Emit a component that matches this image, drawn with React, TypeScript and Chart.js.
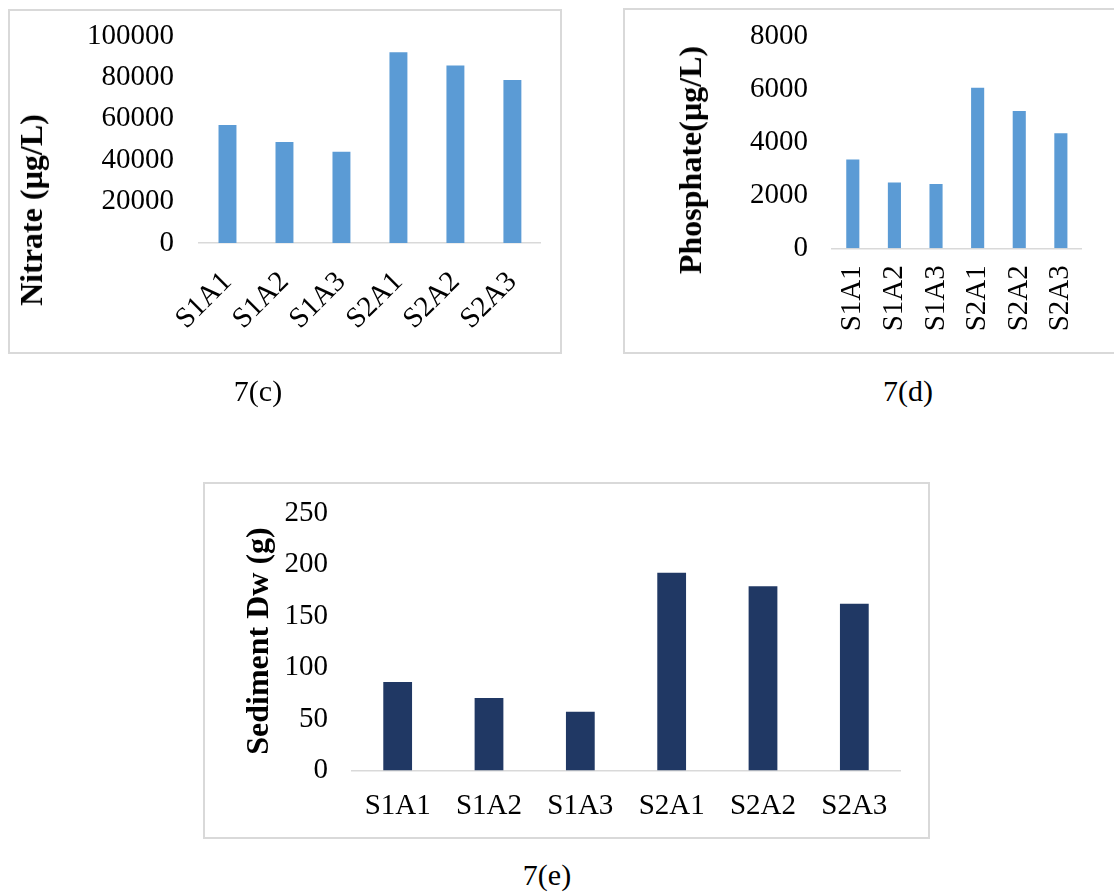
import React, { useEffect, useRef } from "react";
import { Chart, registerables } from "chart.js";

Chart.register(...registerables);

const categories = ["S1A1", "S1A2", "S1A3", "S2A1", "S2A2", "S2A3"];
const nitrateValues = [57000, 48800, 44100, 92100, 85800, 78700];
const phosphateValues = [3360, 2490, 2430, 6070, 5190, 4350];
const sedimentValues = [86, 70.5, 57, 192, 179, 162];
const nitrateTicks = [0, 20000, 40000, 60000, 80000, 100000];
const phosphateTicks = [0, 2000, 4000, 6000, 8000];
const sedimentTicks = [0, 50, 100, 150, 200, 250];

const FONT = "'Liberation Serif', 'Times New Roman', serif";

type Rect = { left: number; top: number; width: number; height: number };
type Area = { left: number; top: number; right: number; bottom: number };

function BarPanel(props: {
  canvas: Rect;
  area: Area;
  values: number[];
  ticks: number[];
  color: string;
  rotation: number;
  xPad: number;
  yPad: number;
}) {
  const ref = useRef<HTMLCanvasElement>(null);
  useEffect(() => {
    const { canvas, area, values, ticks, color, rotation, xPad, yPad } = props;
    const el = ref.current!;
    const chart = new Chart(el, {
      type: "bar",
      data: {
        labels: categories,
        datasets: [
          {
            data: values,
            backgroundColor: color,
            categoryPercentage: 1,
            barPercentage: 0.315,
          },
        ],
      },
      options: {
        responsive: false,
        animation: false,
        devicePixelRatio: 1,
        layout: {
          padding: {
            left: 0,
            top: area.top - canvas.top,
            right: canvas.left + canvas.width - area.right,
            bottom: 0,
          },
        },
        plugins: { legend: { display: false }, tooltip: { enabled: false } },
        scales: {
          x: {
            grid: { display: false, drawTicks: false },
            border: { display: true, color: "#D9D9D9", width: 1.5 },
            ticks: {
              color: "#000",
              font: { family: FONT, size: 29 },
              padding: xPad,
              minRotation: rotation,
              maxRotation: rotation,
              autoSkip: false,
            },
            afterFit: (s: any) => {
              s.height = canvas.top + canvas.height - area.bottom;
            },
          },
          y: {
            min: ticks[0],
            max: ticks[ticks.length - 1],
            grid: { display: false, drawTicks: false },
            border: { display: false },
            ticks: {
              stepSize: ticks[1] - ticks[0],
              color: "#000",
              font: { family: FONT, size: 29 },
              padding: yPad,
              callback: (v: any) => String(v),
            },
            afterFit: (s: any) => {
              s.width = area.left - canvas.left;
            },
          },
        },
      },
    });
    return () => chart.destroy();
  }, []);
  const c = props.canvas;
  return (
    <canvas
      ref={ref}
      width={c.width}
      height={c.height}
      style={{ position: "absolute", left: c.left, top: c.top, width: c.width, height: c.height }}
    />
  );
}

function Box({ r }: { r: Rect }) {
  return (
    <div
      style={{
        position: "absolute",
        left: r.left,
        top: r.top,
        width: r.width,
        height: r.height,
        border: "2px solid #D9D9D9",
        boxSizing: "border-box",
      }}
    />
  );
}

function VText({ text, cx, cy }: { text: string; cx: number; cy: number }) {
  return (
    <div
      style={{
        position: "absolute",
        left: cx,
        top: cy,
        transform: "translate(-50%, -50%) rotate(-90deg)",
        fontFamily: FONT,
        fontWeight: "bold",
        fontSize: 32,
        lineHeight: 1,
        whiteSpace: "nowrap",
        color: "#000",
      }}
    >
      {text}
    </div>
  );
}

function Caption({ text, cx, cy }: { text: string; cx: number; cy: number }) {
  return (
    <div
      style={{
        position: "absolute",
        left: cx,
        top: cy,
        transform: "translate(-50%, -50%)",
        fontFamily: FONT,
        fontSize: 30,
        lineHeight: 1,
        whiteSpace: "nowrap",
        color: "#000",
      }}
    >
      {text}
    </div>
  );
}

export default function App() {
  return (
    <div
      style={{
        position: "fixed",
        left: 0,
        top: 0,
        width: 1114,
        height: 892,
        overflow: "hidden",
        background: "#fff",
      }}
    >
      <Box r={{ left: 8, top: 9, width: 554, height: 345 }} />
      <Box r={{ left: 623, top: 8, width: 500, height: 346 }} />
      <Box r={{ left: 203, top: 482, width: 727, height: 357 }} />

      <BarPanel
        canvas={{ left: 10, top: -14, width: 550, height: 366 }}
        area={{ left: 199, top: 36, right: 548, bottom: 243 }}
        values={nitrateValues}
        ticks={nitrateTicks}
        color="#5B9BD5"
        rotation={45}
        xPad={22}
        yPad={25}
      />
      <BarPanel
        canvas={{ left: 625, top: -14, width: 489, height: 366 }}
        area={{ left: 832, top: 36.7, right: 1098, bottom: 248.3 }}
        values={phosphateValues}
        ticks={phosphateTicks}
        color="#5B9BD5"
        rotation={90}
        xPad={17}
        yPad={24}
      />
      <BarPanel
        canvas={{ left: 205, top: 463, width: 723, height: 374 }}
        area={{ left: 352, top: 513, right: 900, bottom: 770.5 }}
        values={sedimentValues}
        ticks={sedimentTicks}
        color="#203864"
        rotation={0}
        xPad={18}
        yPad={24}
      />

      <VText text="Nitrate (µg/L)" cx={31} cy={210} />
      <VText text="Phosphate(µg/L)" cx={690} cy={160} />
      <VText text="Sediment Dw (g)" cx={257} cy={641} />

      <Caption text="7(c)" cx={258} cy={391} />
      <Caption text="7(d)" cx={908} cy={391} />
      <Caption text="7(e)" cx={547} cy={875} />
    </div>
  );
}
